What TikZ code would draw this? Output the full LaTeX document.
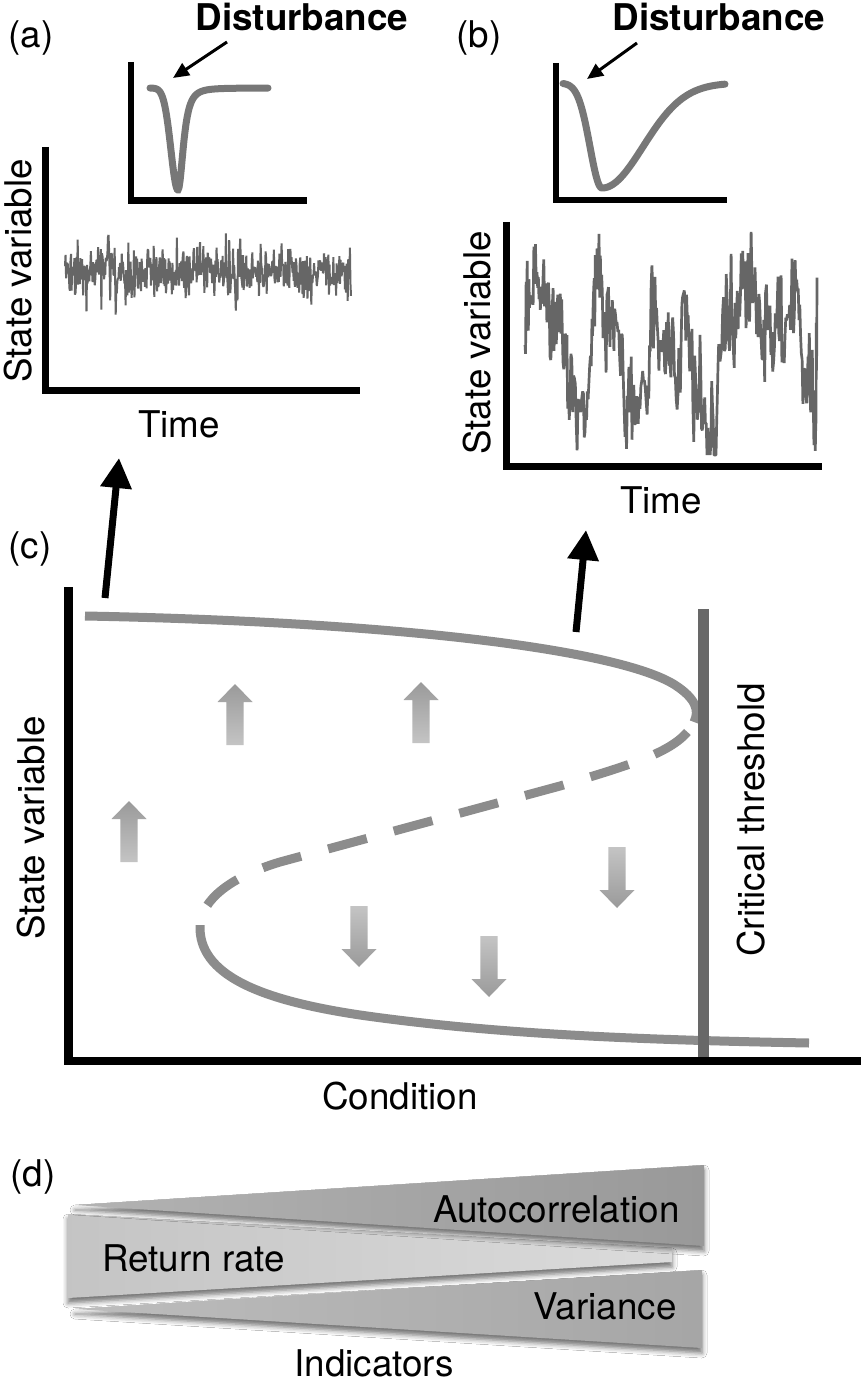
\documentclass[tikz,border=0pt]{standalone}
\usepackage{fontspec}
\setmainfont{TeX Gyre Heros}
\usetikzlibrary{arrows.meta,shadows.blur}
\definecolor{curvec}{HTML}{777777}
\definecolor{branchc}{HTML}{8C8C8C}
\definecolor{threshc}{HTML}{686868}
\definecolor{noisec}{HTML}{666666}
\definecolor{arrdark}{HTML}{9A9A9A}
\definecolor{arrlight}{HTML}{C4C4C4}
\begin{document}
\begin{tikzpicture}[x=0.5pt,y=-0.5pt,
  every node/.style={inner sep=0pt},
  lbl/.style={font=\fontsize{18.4}{22}\selectfont},
  boldlbl/.style={font=\fontsize{18.4}{22}\selectfont\bfseries},
  axisline/.style={line width=3.5pt,black,line join=miter},
  insetaxis/.style={line width=3.3pt,black,line join=miter},
  caxis/.style={line width=4.3pt,black,line join=miter},
  curvest/.style={draw=curvec,line width=3.5pt,line cap=round},
  branch/.style={draw=branchc,line width=4.5pt},
  dashbranch/.style={branch,dash pattern=on 20pt off 14pt,dash phase=28pt},
  thr/.style={draw=threshc,line width=5.5pt},
  bigarr/.style={line width=3.5pt,-{Triangle[width=15pt,length=15pt]}},
  smallarr/.style={line width=1.5pt,-{Triangle[width=7pt,length=8pt]}},
  noisea/.style={draw=noisec,line width=1pt,line join=bevel},
  noiseb/.style={draw=noisec,line width=1.35pt,line join=bevel},
  uparrow/.pic={\shade[top color=arrdark,bottom color=arrlight]
     (-8.6,0) -- (-8.6,-43) -- (-17.5,-43) -- (0,-61) -- (17.5,-43) -- (8.6,-43) -- (8.6,0) -- cycle;},
  downarrow/.pic={\shade[top color=arrlight,bottom color=arrdark]
     (-8.6,0) -- (-8.6,43) -- (-17.5,43) -- (0,61) -- (17.5,43) -- (8.6,43) -- (8.6,0) -- cycle;},
  wshadow/.style={blur shadow={shadow xshift=0pt,shadow yshift=-2.5pt,shadow blur radius=2.5pt,shadow opacity=55}}
]
\fill[white] (0,0) rectangle (861,1384);
\useasboundingbox (0,0) rectangle (861,1384);

% ---------------- panel (a) ----------------
\node[lbl,anchor=base] (la) at (31,48) {(a)};
\node[boldlbl,anchor=base] (dista) at (302,31) {Disturbance};
\coordinate (dista-s) at (227,42);
\coordinate (dista-t) at (173,78);
\draw[smallarr] (dista-s) -- (dista-t);
\draw[insetaxis] (131,62) -- (131,200.5) -- (307,200.5);
\draw[curvest] plot[domain=150:178,samples=40,variable=\t] (\t,{88+102*exp(max(-9,-(\t-178)*(\t-178)/100))})
  -- plot[domain=178:268,samples=90,variable=\t] (\t,{88+102/((1+(\t-178)*(\t-178)/64)^1.5)});
\draw[axisline] (45.5,147) -- (45.5,391) -- (360,391);
\pgfmathsetseed{11}
\draw[noisea] plot[domain=65:351,samples=520,variable=\t] (\t,{273+13*sqrt(-2*ln(0.9998*rnd+0.0001))*cos(360*rnd)});
\node[lbl,rotate=90,anchor=base] (sva) at (32,271) {State variable};
\node[lbl,anchor=base] (timea) at (179,438) {Time};

% ---------------- panel (b) ----------------
\node[lbl,anchor=base] (lb) at (479,48) {(b)};
\node[boldlbl,anchor=base] (distb) at (719,31) {Disturbance};
\coordinate (distb-s) at (637,43);
\coordinate (distb-t) at (587,79);
\draw[smallarr] (distb-s) -- (distb-t);
\draw[insetaxis] (556,63) -- (556,200) -- (727,200);
\draw[curvest] plot[domain=563:602,samples=50,variable=\t] (\t,{83+105*exp(max(-9,-(\t-602)*(\t-602)/289))})
  -- plot[domain=602:725,samples=100,variable=\t] (\t,{83+105*exp(max(-9,-(\t-602)*(\t-602)/3364))});
\draw[axisline] (506.5,222) -- (506.5,467) -- (822,467);
\pgfmathsetseed{5}
\xdef\bj{0}
\xdef\bpx{525}\xdef\bpy{345}
\xdef\bpath{(525,345)}
\foreach \xb/\yb in {530/300, 537/262, 543/285, 550/300, 557/345, 563/330, 570/385, 578/400, 585/415, 592/330, 597/262, 603/300, 610/320, 617/345, 625/390, 632/410, 640/395, 648/345, 655/330, 662/345, 670/370, 678/360, 685/295, 692/380, 700/385, 707/420, 714/425, 720/345, 728/310, 735/330, 742/300, 748/275, 755/300, 762/335, 770/345, 778/320, 785/320, 792/300, 799/320, 806/350, 812/380, 815/420, 817/330}{
  \foreach \k in {1,...,9}{
    \pgfmathsetmacro\bx{\bpx+(\xb-\bpx)*\k/9}
    \pgfmathsetmacro\nj{0.3*\bj+64*(rand+rand)/2}
    \xdef\bj{\nj}
    \pgfmathsetmacro\by{min(455,max(232,\bpy+(\yb-\bpy)*\k/9+\bj))}
    \xdef\bpath{\bpath -- (\bx,\by)}
  }
  \xdef\bpx{\xb}\xdef\bpy{\yb}
}
\edef\drawnoiseb{\noexpand\draw[noiseb] \bpath;}
\drawnoiseb
\node[lbl,rotate=90,anchor=base] (svb) at (490,343) {State variable};
\node[lbl,anchor=base] (timeb) at (661,513) {Time};

% ---------------- panel (c) ----------------
\node[lbl,anchor=base] (lc) at (30,558) {(c)};
\coordinate (ca-s) at (105,598);
\coordinate (ca-t) at (119,458);
\draw[bigarr] (ca-s) -- (ca-t);
\coordinate (cb-s) at (576,632);
\coordinate (cb-t) at (586,530);
\draw[bigarr] (cb-s) -- (cb-t);

\draw[branch] (85,616) .. controls (400,622) and (620,650) .. (675,685)
   .. controls (695,698) and (700,710) .. (694,722);
\draw[dashbranch] (694,722) .. controls (680,750) and (640,762) .. (560,786)
   -- (280,862) .. controls (230,877) and (202,900) .. (200,925);
\draw[branch] (200,925) .. controls (198,975) and (260,1000) .. (360,1015)
   .. controls (500,1035) and (650,1040) .. (809,1043);
\draw[thr] (703,609) -- (703,1061);
\draw[caxis] (68.5,587) -- (68.5,1061) -- (861,1061);

\pic at (235,745) {uparrow};
\pic at (421,743) {uparrow};
\pic at (129,862) {uparrow};
\pic at (617,847) {downarrow};
\pic at (359,906) {downarrow};
\pic at (489,936) {downarrow};

\node[lbl,rotate=90,anchor=base] (svc) at (44,828) {State variable};
\node[lbl,rotate=90,anchor=base] (crit) at (764,820) {Critical threshold};
\node[lbl,anchor=base] (cond) at (400,1109) {Condition};

% ---------------- panel (d) ----------------
\node[lbl,anchor=base] (ld) at (33,1186) {(d)};
\shade[left color=black!23,right color=black!14,wshadow] (68,1214) -- (672,1248) -- (672,1262) -- (68,1298) -- cycle;
\shade[left color=black!30,right color=black!40,wshadow] (75,1205) -- (704,1165) -- (704,1246) -- cycle;
\shade[left color=black!26,right color=black!35,wshadow] (75,1309) -- (702,1270) -- (702,1348) -- cycle;
\node[lbl,anchor=base east] (auto) at (680,1222) {Autocorrelation};
\node[lbl,anchor=base west] (ret) at (102,1271) {Return rate};
\node[lbl,anchor=base east] (var) at (677,1319) {Variance};
\node[lbl,anchor=base] (ind) at (374,1376) {Indicators};
\end{tikzpicture}
\end{document}
